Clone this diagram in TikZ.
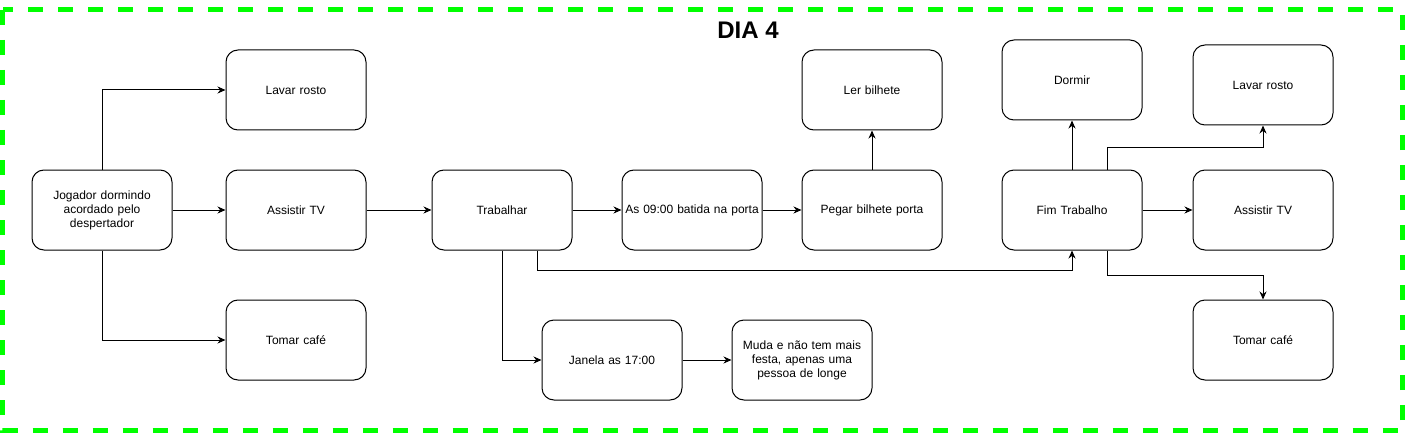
\documentclass[tikz,border=0pt]{standalone}
\usepackage{fontspec}
\setmainfont{Liberation Sans}
\usetikzlibrary{arrows.meta}
\pgfdeclarelayer{edgelayer}
\pgfdeclarelayer{nodelayer}
\pgfsetlayers{edgelayer,nodelayer,main}
\definecolor{limegreen}{RGB}{0,255,0}
\tikzset{font=\fontsize{12}{14}\selectfont}
\tikzstyle{none}=[inner sep=0pt]
\tikzstyle{box}=[rectangle,draw,fill=white,line width=1pt,rounded corners=12pt,minimum width=140pt,minimum height=80pt,text width=138pt,inner sep=1pt,align=center]
\tikzstyle{arrow}=[-{Stealth[length=8pt,width=7pt]},line width=1pt]
\tikzstyle{frame}=[draw=limegreen,line width=5pt,dash pattern=on 15pt off 15pt]

\begin{document}
\begin{tikzpicture}[x=20pt,y=20pt]
	\useasboundingbox (0,0) rectangle (70.25,-21.65);
	\begin{pgfonlayer}{nodelayer}
		\node [style=box] (0) at (5.1, -10.5) {Jogador dormindo\\acordado pelo\\despertador};
		\node [style=box] (1) at (14.8, -4.5) {Lavar rosto};
		\node [style=box] (2) at (14.8, -10.5) {Assistir TV};
		\node [style=box] (3) at (14.8, -17) {Tomar café};
		\node [style=box] (4) at (25.1, -10.5) {Trabalhar};
		\node [style=box] (5) at (34.6, -10.5) {As 09:00 batida na porta};
		\node [style=box] (6) at (43.6, -10.5) {Pegar bilhete porta};
		\node [style=box] (7) at (43.6, -4.5) {Ler bilhete};
		\node [style=box] (8) at (30.6, -18) {Janela as 17:00};
		\node [style=box] (9) at (40.1, -18) {Muda e não tem mais\\festa, apenas uma\\pessoa de longe};
		\node [style=box] (10) at (53.6, -10.5) {Fim Trabalho};
		\node [style=box] (11) at (53.6, -4) {Dormir};
		\node [style=box] (12) at (63.15, -4.25) {Lavar rosto};
		\node [style=box] (13) at (63.15, -10.5) {Assistir TV};
		\node [style=box] (14) at (63.15, -17) {Tomar café};
		\node [style=none, font=\fontsize{24}{28}\selectfont\bfseries] (15) at (37.4, -1.5) {DIA 4};
	\end{pgfonlayer}
	\begin{pgfonlayer}{edgelayer}
		\draw [style=frame] (0.125, -0.5) rectangle (70.125, -21.5);
		\draw [style=arrow] (0) |- (1);
		\draw [style=arrow] (0) to (2);
		\draw [style=arrow] (0) |- (3);
		\draw [style=arrow] (2) to (4);
		\draw [style=arrow] (4) to (5);
		\draw [style=arrow] (5) to (6);
		\draw [style=arrow] (6) to (7);
		\draw [style=arrow] (4) |- (8);
		\draw [style=arrow] (8) to (9);
		\draw [style=arrow] ([xshift=35pt]4.south) -- ++(0, -1) -| (10);
		\draw [style=arrow] (10) to (11);
		\draw [style=arrow] ([xshift=35pt]10.north) -- ++(0, 1.1) -| (12);
		\draw [style=arrow] (10) to (13);
		\draw [style=arrow] ([xshift=35pt]10.south) -- ++(0, -1.25) -| (14);
	\end{pgfonlayer}
\end{tikzpicture}
\end{document}
